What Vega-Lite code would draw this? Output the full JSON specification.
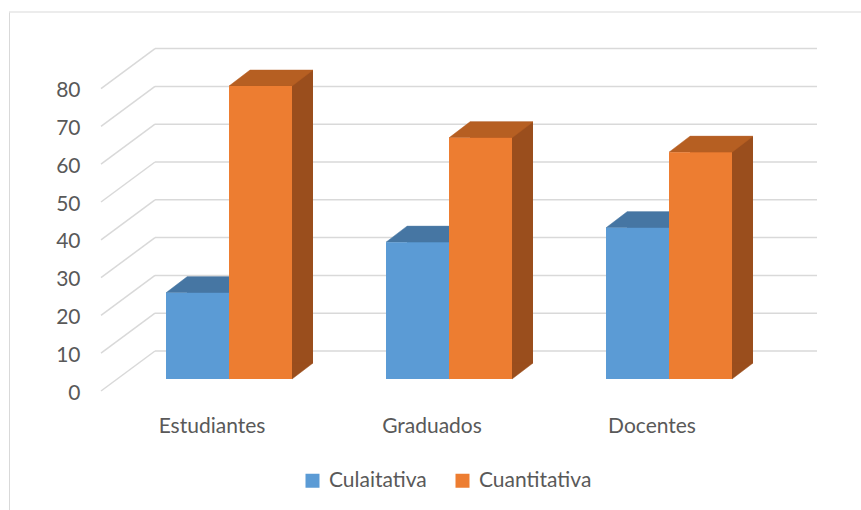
{
  "$schema": "https://vega.github.io/schema/vega-lite/v6.json",
  "width": 852,
  "height": 498,
  "autosize": "none",
  "padding": {"left": 9, "top": 12, "right": 0, "bottom": 0},
  "background": "white",
  "config": {"view": {"stroke": null}},
  "datasets": {
    "bars": [
      {"cat": "Estudiantes", "series": "Culaitativa", "value": 22.8},
      {"cat": "Estudiantes", "series": "Cuantitativa", "value": 77.5},
      {"cat": "Graduados", "series": "Culaitativa", "value": 36.2},
      {"cat": "Graduados", "series": "Cuantitativa", "value": 63.8},
      {"cat": "Docentes", "series": "Culaitativa", "value": 40},
      {"cat": "Docentes", "series": "Cuantitativa", "value": 60}
    ],
    "grid": [
      {"v": 0}, {"v": 10}, {"v": 20}, {"v": 30}, {"v": 40},
      {"v": 50}, {"v": 60}, {"v": 70}, {"v": 80}
    ],
    "one": [{"k": 1}]
  },
  "layer": [
    {
      "data": {"name": "grid"},
      "mark": {"type": "rule", "color": "#d9d9d9", "strokeWidth": 1.5, "xOffset": 53, "x2Offset": 55, "yOffset": -40},
      "encoding": {
        "x": {"datum": "Estudiantes", "bandPosition": 0, "scale": {"domain": ["Estudiantes", "Graduados", "Docentes"], "range": [93, 753], "paddingInner": 0, "paddingOuter": 0},
          "axis": {"title": null, "orient": "bottom", "offset": -78, "labelBaseline": "alphabetic", "labelPadding": 0, "domain": false, "ticks": false, "grid": false, "labelAngle": 0, "labelFont": "Lato", "labelFontSize": 21, "labelColor": "#595959"}},
        "x2": {"datum": "Docentes", "bandPosition": 1},
        "y": {"field": "v", "type": "quantitative", "scale": {"domain": [-31.48, 100.27], "nice": false, "zero": false},
          "axis": {"title": null, "values": [0, 10, 20, 30, 40, 50, 60, 70, 80], "domain": true, "domainColor": "#d9d9d9", "domainWidth": 1, "ticks": false, "grid": false, "labelPadding": -71, "labelFont": "Lato", "labelFontSize": 21, "labelColor": "#595959", "labelBaseline": "middle", "labelOffset": 2}}
      }
    },
    {
      "data": {"name": "grid"},
      "mark": {"type": "rule", "color": "#d9d9d9", "strokeWidth": 1.5, "xOffset": -1, "x2Offset": 53, "y2Offset": -40},
      "encoding": {
        "x": {"datum": "Estudiantes", "bandPosition": 0, "scale": {"domain": ["Estudiantes", "Graduados", "Docentes"], "range": [93, 753], "paddingInner": 0, "paddingOuter": 0},
          "axis": {"title": null, "orient": "bottom", "offset": -78, "labelBaseline": "alphabetic", "labelPadding": 0, "domain": false, "ticks": false, "grid": false, "labelAngle": 0, "labelFont": "Lato", "labelFontSize": 21, "labelColor": "#595959"}},
        "x2": {"datum": "Estudiantes", "bandPosition": 0},
        "y": {"field": "v", "type": "quantitative", "scale": {"domain": [-31.48, 100.27], "nice": false, "zero": false},
          "axis": {"title": null, "values": [0, 10, 20, 30, 40, 50, 60, 70, 80], "domain": true, "domainColor": "#d9d9d9", "domainWidth": 1, "ticks": false, "grid": false, "labelPadding": -71, "labelFont": "Lato", "labelFontSize": 21, "labelColor": "#595959", "labelBaseline": "middle", "labelOffset": 2}},
        "y2": {"field": "v"}
      }
    },
    {
      "data": {"name": "one"},
      "mark": {"type": "rule", "color": "#d9d9d9", "strokeWidth": 1},
      "encoding": {
        "y": {"datum": 100.27, "type": "quantitative", "scale": {"domain": [-31.48, 100.27], "nice": false, "zero": false},
          "axis": {"title": null, "values": [0, 10, 20, 30, 40, 50, 60, 70, 80], "domain": true, "domainColor": "#d9d9d9", "domainWidth": 1, "ticks": false, "grid": false, "labelPadding": -71, "labelFont": "Lato", "labelFontSize": 21, "labelColor": "#595959", "labelBaseline": "middle", "labelOffset": 2}}
      }
    },
    {
      "data": {"name": "bars"},
      "transform": [{"filter": "datum.series === 'Culaitativa'"}],
      "mark": {"type": "bar", "width": 63, "xOffset": 6.5, "yOffset": -28, "y2Offset": -28, "color": "#3e6a94"},
      "encoding": {
        "x": {"field": "cat", "type": "nominal", "scale": {"domain": ["Estudiantes", "Graduados", "Docentes"], "range": [93, 753], "paddingInner": 0, "paddingOuter": 0},
          "axis": {"title": null, "orient": "bottom", "offset": -78, "labelBaseline": "alphabetic", "labelPadding": 0, "domain": false, "ticks": false, "grid": false, "labelAngle": 0, "labelFont": "Lato", "labelFontSize": 21, "labelColor": "#595959"}},
        "y": {"field": "value", "type": "quantitative", "stack": null, "scale": {"domain": [-31.48, 100.27], "nice": false, "zero": false},
          "axis": {"title": null, "values": [0, 10, 20, 30, 40, 50, 60, 70, 80], "domain": true, "domainColor": "#d9d9d9", "domainWidth": 1, "ticks": false, "grid": false, "labelPadding": -71, "labelFont": "Lato", "labelFontSize": 21, "labelColor": "#595959", "labelBaseline": "middle", "labelOffset": 2}},
        "y2": {"datum": 0}
      }
    },
    {
      "data": {"name": "bars"},
      "transform": [{"filter": "datum.series === 'Culaitativa'"}],
      "mark": {"type": "point", "shape": "M63,-16L84,-16L63,0Z", "size": 4, "filled": true, "opacity": 1, "color": "#3e6a94", "stroke": "#3e6a94", "strokeWidth": 0.5, "xOffset": -46, "yOffset": -12},
      "encoding": {
        "x": {"field": "cat", "type": "nominal", "scale": {"domain": ["Estudiantes", "Graduados", "Docentes"], "range": [93, 753], "paddingInner": 0, "paddingOuter": 0},
          "axis": {"title": null, "orient": "bottom", "offset": -78, "labelBaseline": "alphabetic", "labelPadding": 0, "domain": false, "ticks": false, "grid": false, "labelAngle": 0, "labelFont": "Lato", "labelFontSize": 21, "labelColor": "#595959"}},
        "y": {"datum": 0, "type": "quantitative", "scale": {"domain": [-31.48, 100.27], "nice": false, "zero": false},
          "axis": {"title": null, "values": [0, 10, 20, 30, 40, 50, 60, 70, 80], "domain": true, "domainColor": "#d9d9d9", "domainWidth": 1, "ticks": false, "grid": false, "labelPadding": -71, "labelFont": "Lato", "labelFontSize": 21, "labelColor": "#595959", "labelBaseline": "middle", "labelOffset": 2}}
      }
    },
    {
      "data": {"name": "bars"},
      "transform": [{"filter": "datum.series === 'Culaitativa'"}],
      "mark": {"type": "point", "shape": "M0,0L63,0L84,-16L21,-16Z", "size": 4, "filled": true, "opacity": 1, "color": "#4676a3", "stroke": "#4676a3", "strokeWidth": 0.5, "xOffset": -46, "yOffset": -12},
      "encoding": {
        "x": {"field": "cat", "type": "nominal", "scale": {"domain": ["Estudiantes", "Graduados", "Docentes"], "range": [93, 753], "paddingInner": 0, "paddingOuter": 0},
          "axis": {"title": null, "orient": "bottom", "offset": -78, "labelBaseline": "alphabetic", "labelPadding": 0, "domain": false, "ticks": false, "grid": false, "labelAngle": 0, "labelFont": "Lato", "labelFontSize": 21, "labelColor": "#595959"}},
        "y": {"field": "value", "type": "quantitative", "scale": {"domain": [-31.48, 100.27], "nice": false, "zero": false},
          "axis": {"title": null, "values": [0, 10, 20, 30, 40, 50, 60, 70, 80], "domain": true, "domainColor": "#d9d9d9", "domainWidth": 1, "ticks": false, "grid": false, "labelPadding": -71, "labelFont": "Lato", "labelFontSize": 21, "labelColor": "#595959", "labelBaseline": "middle", "labelOffset": 2}}
      }
    },
    {
      "data": {"name": "bars"},
      "transform": [{"filter": "datum.series === 'Culaitativa'"}],
      "mark": {"type": "bar", "width": 63, "xOffset": -14.5, "yOffset": -12, "y2Offset": -12},
      "encoding": {
        "x": {"field": "cat", "type": "nominal", "scale": {"domain": ["Estudiantes", "Graduados", "Docentes"], "range": [93, 753], "paddingInner": 0, "paddingOuter": 0},
          "axis": {"title": null, "orient": "bottom", "offset": -78, "labelBaseline": "alphabetic", "labelPadding": 0, "domain": false, "ticks": false, "grid": false, "labelAngle": 0, "labelFont": "Lato", "labelFontSize": 21, "labelColor": "#595959"}},
        "y": {"field": "value", "type": "quantitative", "stack": null, "scale": {"domain": [-31.48, 100.27], "nice": false, "zero": false},
          "axis": {"title": null, "values": [0, 10, 20, 30, 40, 50, 60, 70, 80], "domain": true, "domainColor": "#d9d9d9", "domainWidth": 1, "ticks": false, "grid": false, "labelPadding": -71, "labelFont": "Lato", "labelFontSize": 21, "labelColor": "#595959", "labelBaseline": "middle", "labelOffset": 2}},
        "y2": {"datum": 0},
        "color": {"field": "series", "type": "nominal",
          "scale": {"domain": ["Culaitativa", "Cuantitativa"], "range": ["#5b9bd5", "#ed7d31"]},
          "legend": {"title": null, "orient": "none", "legendX": 293, "legendY": 458, "direction": "horizontal", "symbolType": "square", "symbolSize": 196, "symbolStrokeWidth": 0, "labelFont": "Lato", "labelFontSize": 21, "labelColor": "#595959", "labelOffset": 6, "columnPadding": 25, "padding": 0}}
      }
    },
    {
      "data": {"name": "bars"},
      "transform": [{"filter": "datum.series === 'Cuantitativa'"}],
      "mark": {"type": "bar", "width": 63, "xOffset": 69.5, "yOffset": -28, "y2Offset": -28, "color": "#9a4e1d"},
      "encoding": {
        "x": {"field": "cat", "type": "nominal", "scale": {"domain": ["Estudiantes", "Graduados", "Docentes"], "range": [93, 753], "paddingInner": 0, "paddingOuter": 0},
          "axis": {"title": null, "orient": "bottom", "offset": -78, "labelBaseline": "alphabetic", "labelPadding": 0, "domain": false, "ticks": false, "grid": false, "labelAngle": 0, "labelFont": "Lato", "labelFontSize": 21, "labelColor": "#595959"}},
        "y": {"field": "value", "type": "quantitative", "stack": null, "scale": {"domain": [-31.48, 100.27], "nice": false, "zero": false},
          "axis": {"title": null, "values": [0, 10, 20, 30, 40, 50, 60, 70, 80], "domain": true, "domainColor": "#d9d9d9", "domainWidth": 1, "ticks": false, "grid": false, "labelPadding": -71, "labelFont": "Lato", "labelFontSize": 21, "labelColor": "#595959", "labelBaseline": "middle", "labelOffset": 2}},
        "y2": {"datum": 0}
      }
    },
    {
      "data": {"name": "bars"},
      "transform": [{"filter": "datum.series === 'Cuantitativa'"}],
      "mark": {"type": "point", "shape": "M63,-16L84,-16L63,0Z", "size": 4, "filled": true, "opacity": 1, "color": "#9a4e1d", "stroke": "#9a4e1d", "strokeWidth": 0.5, "xOffset": 17, "yOffset": -12},
      "encoding": {
        "x": {"field": "cat", "type": "nominal", "scale": {"domain": ["Estudiantes", "Graduados", "Docentes"], "range": [93, 753], "paddingInner": 0, "paddingOuter": 0},
          "axis": {"title": null, "orient": "bottom", "offset": -78, "labelBaseline": "alphabetic", "labelPadding": 0, "domain": false, "ticks": false, "grid": false, "labelAngle": 0, "labelFont": "Lato", "labelFontSize": 21, "labelColor": "#595959"}},
        "y": {"datum": 0, "type": "quantitative", "scale": {"domain": [-31.48, 100.27], "nice": false, "zero": false},
          "axis": {"title": null, "values": [0, 10, 20, 30, 40, 50, 60, 70, 80], "domain": true, "domainColor": "#d9d9d9", "domainWidth": 1, "ticks": false, "grid": false, "labelPadding": -71, "labelFont": "Lato", "labelFontSize": 21, "labelColor": "#595959", "labelBaseline": "middle", "labelOffset": 2}}
      }
    },
    {
      "data": {"name": "bars"},
      "transform": [{"filter": "datum.series === 'Cuantitativa'"}],
      "mark": {"type": "point", "shape": "M0,0L63,0L84,-16L21,-16Z", "size": 4, "filled": true, "opacity": 1, "color": "#b65f22", "stroke": "#b65f22", "strokeWidth": 0.5, "xOffset": 17, "yOffset": -12},
      "encoding": {
        "x": {"field": "cat", "type": "nominal", "scale": {"domain": ["Estudiantes", "Graduados", "Docentes"], "range": [93, 753], "paddingInner": 0, "paddingOuter": 0},
          "axis": {"title": null, "orient": "bottom", "offset": -78, "labelBaseline": "alphabetic", "labelPadding": 0, "domain": false, "ticks": false, "grid": false, "labelAngle": 0, "labelFont": "Lato", "labelFontSize": 21, "labelColor": "#595959"}},
        "y": {"field": "value", "type": "quantitative", "scale": {"domain": [-31.48, 100.27], "nice": false, "zero": false},
          "axis": {"title": null, "values": [0, 10, 20, 30, 40, 50, 60, 70, 80], "domain": true, "domainColor": "#d9d9d9", "domainWidth": 1, "ticks": false, "grid": false, "labelPadding": -71, "labelFont": "Lato", "labelFontSize": 21, "labelColor": "#595959", "labelBaseline": "middle", "labelOffset": 2}}
      }
    },
    {
      "data": {"name": "bars"},
      "transform": [{"filter": "datum.series === 'Cuantitativa'"}],
      "mark": {"type": "bar", "width": 63, "xOffset": 48.5, "yOffset": -12, "y2Offset": -12},
      "encoding": {
        "x": {"field": "cat", "type": "nominal", "scale": {"domain": ["Estudiantes", "Graduados", "Docentes"], "range": [93, 753], "paddingInner": 0, "paddingOuter": 0},
          "axis": {"title": null, "orient": "bottom", "offset": -78, "labelBaseline": "alphabetic", "labelPadding": 0, "domain": false, "ticks": false, "grid": false, "labelAngle": 0, "labelFont": "Lato", "labelFontSize": 21, "labelColor": "#595959"}},
        "y": {"field": "value", "type": "quantitative", "stack": null, "scale": {"domain": [-31.48, 100.27], "nice": false, "zero": false},
          "axis": {"title": null, "values": [0, 10, 20, 30, 40, 50, 60, 70, 80], "domain": true, "domainColor": "#d9d9d9", "domainWidth": 1, "ticks": false, "grid": false, "labelPadding": -71, "labelFont": "Lato", "labelFontSize": 21, "labelColor": "#595959", "labelBaseline": "middle", "labelOffset": 2}},
        "y2": {"datum": 0},
        "color": {"field": "series", "type": "nominal",
          "scale": {"domain": ["Culaitativa", "Cuantitativa"], "range": ["#5b9bd5", "#ed7d31"]},
          "legend": {"title": null, "orient": "none", "legendX": 293, "legendY": 458, "direction": "horizontal", "symbolType": "square", "symbolSize": 196, "symbolStrokeWidth": 0, "labelFont": "Lato", "labelFontSize": 21, "labelColor": "#595959", "labelOffset": 6, "columnPadding": 25, "padding": 0}}
      }
    }
  ]
}
